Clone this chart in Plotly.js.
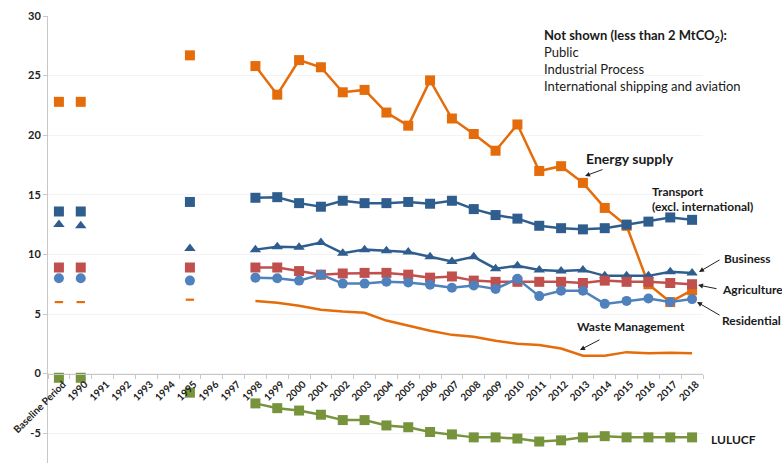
<!DOCTYPE html>
<html>
<head>
<meta charset="utf-8">
<script src="https://cdn.plot.ly/plotly-3.0.1.min.js"></script>
<style>html,body{margin:0;padding:0;background:#fff;}#chart{width:782px;height:463px;}</style>
</head>
<body>
<div id="chart"></div>
<script>
var categories = ['Baseline Period','1990','1991','1992','1993','1994','1995','1996','1997','1998','1999','2000','2001','2002','2003','2004','2005','2006','2007','2008','2009','2010','2011','2012','2013','2014','2015','2016','2017','2018'];

var energySupply = [22.8,22.8,null,null,null,null,26.7,null,null,25.8,23.4,26.3,25.7,23.6,23.8,21.9,20.8,24.6,21.4,20.1,18.7,20.9,17.0,17.4,16.0,13.9,12.4,7.5,6.0,7.0];
var transport = [13.6,13.6,null,null,null,null,14.4,null,null,14.75,14.8,14.3,14.0,14.5,14.3,14.3,14.4,14.25,14.5,13.8,13.3,13.0,12.4,12.2,12.1,12.2,12.5,12.75,13.1,12.9];
var business = [12.5,12.4,null,null,null,null,10.5,null,null,10.4,10.65,10.6,11.0,10.1,10.4,10.3,10.2,9.8,9.4,9.8,8.8,9.05,8.7,8.6,8.7,8.2,8.2,8.2,8.55,8.45];
var agriculture = [8.9,8.9,null,null,null,null,8.9,null,null,8.9,8.9,8.6,8.3,8.4,8.45,8.45,8.3,8.05,8.15,7.8,7.7,7.7,7.7,7.7,7.6,7.8,7.7,7.7,7.6,7.5];
var residential = [8.0,8.0,null,null,null,null,7.8,null,null,8.05,8.0,7.8,8.3,7.55,7.55,7.7,7.65,7.45,7.2,7.4,7.1,7.95,6.5,6.95,6.95,5.85,6.1,6.3,6.0,6.25];
var wasteManagement = [6.0,6.0,null,null,null,null,6.2,null,null,6.1,5.95,5.7,5.35,5.2,5.1,4.45,4.0,3.6,3.25,3.1,2.75,2.5,2.4,2.1,1.5,1.5,1.8,1.7,1.75,1.7];
var lulucf = [-0.35,-0.35,null,null,null,null,-1.6,null,null,-2.5,-2.9,-3.1,-3.45,-3.9,-3.9,-4.35,-4.5,-4.9,-5.1,-5.35,-5.35,-5.45,-5.7,-5.6,-5.35,-5.25,-5.35,-5.35,-5.35,-5.35];
var yTicks = [-5,0,5,10,15,20,25,30];

var FIRST_LINE_INDEX = 9; // 1998 onwards is a connected series

function split(values, color, symbol, size, lineWidth, earlySymbol, earlySize, noLineMarkers) {
  var ex = [], ey = [], lx = [], ly = [];
  values.forEach(function (v, i) {
    if (v === null) return;
    if (i < FIRST_LINE_INDEX) { ex.push(categories[i]); ey.push(v); }
    else { lx.push(categories[i]); ly.push(v); }
  });
  var early = {
    type: 'scatter', mode: 'markers', x: ex, y: ey, hoverinfo: 'skip',
    marker: {symbol: earlySymbol || symbol, size: earlySize || size, color: color,
             line: {color: color, width: earlySymbol === 'line-ew' ? 2.2 : 0}}
  };
  var main = {
    type: 'scatter', mode: noLineMarkers ? 'lines' : 'lines+markers', x: lx, y: ly, hoverinfo: 'skip',
    line: {color: color, width: lineWidth},
    marker: {symbol: symbol, size: size, color: color}
  };
  return [early, main];
}

var ORANGE = '#E46C0A', DARKBLUE = '#2F5E8E', RED = '#C0504D', LIGHTBLUE = '#4F81BD', GREEN = '#77933C';

var traces = [].concat(
  split(energySupply, ORANGE, 'square', 10, 2.5),
  split(transport, DARKBLUE, 'square', 10, 2.5),
  split(business, DARKBLUE, 'triangle-up', 10, 2.5),
  split(agriculture, RED, 'square', 10, 2.5),
  split(residential, LIGHTBLUE, 'circle', 10, 2.5),
  split(wasteManagement, ORANGE, 'circle', 1, 2.5, 'line-ew', 6, true),
  split(lulucf, GREEN, 'square', 10, 2.5)
);

var PL = 48, PT = 16, PW = 655, PH = 447;
function px(x) { return (x - PL) / PW; }
function py(y) { return (PT + PH - y) / PH; }

var FONT = 'Lato, "Open Sans", sans-serif';
function label(text, x, y, size, bold, anchor) {
  return {text: text, x: px(x), y: py(y), xref: 'paper', yref: 'paper', showarrow: false,
          xanchor: anchor || 'left', yanchor: 'middle',
          font: {family: FONT, size: size, color: '#1a1a1a', weight: bold ? 'bold' : 'normal'}};
}
function arrow(hx, hy, tx, ty) {
  return {text: '', x: px(hx), y: py(hy), xref: 'paper', yref: 'paper', showarrow: true,
          ax: tx - hx, ay: ty - hy, arrowhead: 2, arrowsize: 1, arrowwidth: 1, arrowcolor: '#222'};
}

var annotations = [
  label('Not shown (less than 2 MtCO<sub>2</sub>):', 542, 36, 13, true),
  label('Public', 542, 52, 13, false),
  label('Industrial Process', 542, 69, 13, false),
  label('International shipping and aviation', 542, 86, 13, false),
  label('Energy supply', 584, 158, 14, true),
  label('Transport', 650, 191, 12, true),
  label('(excl. international)', 650, 206, 12, true),
  label('Business', 722, 258, 12, true),
  label('Agriculture', 720, 289, 12, true),
  label('Residential', 720, 320, 12, true),
  label('Waste Management', 575, 326, 12, true),
  label('LULUCF', 709, 439, 12, true),
  arrow(585, 176, 604, 169),
  arrow(699, 272, 721, 259),
  arrow(698, 285, 718, 289),
  arrow(697, 302, 721, 316),
  arrow(580, 350, 601, 339)
];

var yMin = -7.5, yMax = 30;
var layout = {
  width: 782, height: 463,
  margin: {l: PL, r: 782 - PL - PW, t: PT, b: 463 - PT - PH},
  paper_bgcolor: '#fff', plot_bgcolor: '#fff',
  showlegend: false,
  xaxis: {
    type: 'category', categoryorder: 'array', categoryarray: categories,
    range: [-0.5, categories.length - 0.5],
    anchor: 'free', position: (0 - yMin) / (yMax - yMin),
    showline: true, linecolor: '#c8c8c8', linewidth: 1,
    ticks: 'outside', tickson: 'boundaries', ticklen: 4, tickcolor: '#c8c8c8',
    tickangle: -45, ticklabelshift: 4, showgrid: false, zeroline: false,
    tickfont: {family: FONT, size: 10, color: '#222', weight: 'bold'}
  },
  yaxis: {
    range: [yMin, yMax], tickvals: yTicks, ticktext: yTicks.map(String),
    showline: true, linecolor: '#c8c8c8', linewidth: 1,
    ticks: 'outside', ticklen: 4, tickcolor: '#c8c8c8',
    showgrid: true, gridcolor: '#f3f3f3', zeroline: false,
    tickfont: {family: FONT, size: 11, color: '#222', weight: 'bold'}
  },
  annotations: annotations
};

Plotly.newPlot('chart', traces, layout, {staticPlot: true, displayModeBar: false});
</script>
</body>
</html>
